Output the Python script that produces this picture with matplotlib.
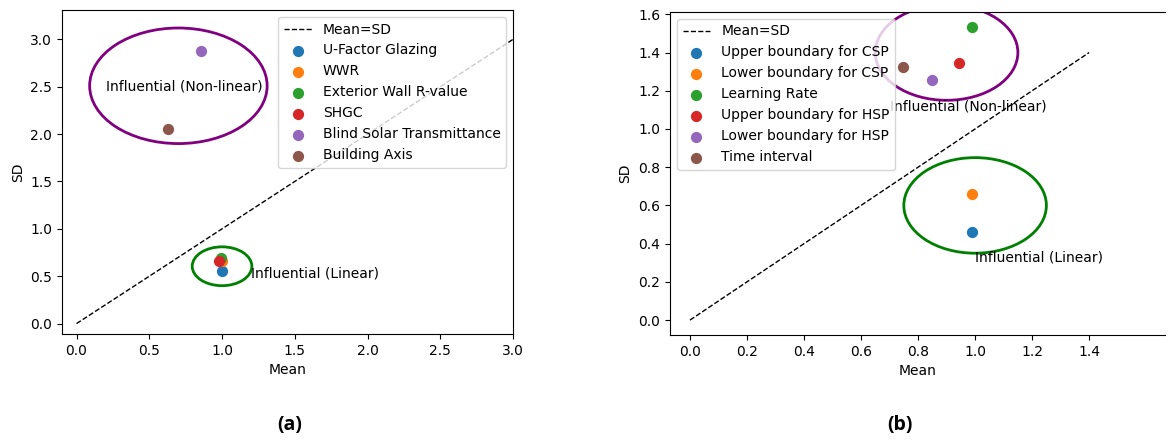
import matplotlib
matplotlib.use("Agg")
import matplotlib.pyplot as plt
from matplotlib.patches import Ellipse

# ---- data panel (a) ----
labels_a = ["U-Factor Glazing", "WWR", "Exterior Wall R-value", "SHGC",
            "Blind Solar Transmittance", "Building Axis"]
mean_a = [1.00, 1.00, 0.99, 0.98, 0.855, 0.63]
sd_a = [0.55, 0.66, 0.69, 0.66, 2.88, 2.05]
diag_a = [0.0, 3.0]

# ---- data panel (b) ----
labels_b = ["Upper boundary for CSP", "Lower boundary for CSP", "Learning Rate",
            "Upper boundary for HSP", "Lower boundary for HSP", "Time interval"]
mean_b = [0.99, 0.99, 0.99, 0.943, 0.85, 0.748]
sd_b = [0.46, 0.66, 1.532, 1.347, 1.255, 1.322]
diag_b = [0.0, 1.4]

colors = ["#1f77b4", "#ff7f0e", "#2ca02c", "#d62728", "#9467bd", "#8c564b"]

fig = plt.figure(figsize=(11.7, 4.45), dpi=100)
plt.rcParams['font.family'] = ['DejaVu Sans']

# panel (a)
ax1 = fig.add_axes([62/1170, 1 - 334/445, 451/1170, 324/445])
ax1.plot(diag_a, diag_a, 'k--', lw=1, label="Mean=SD")
for m, s, c, l in zip(mean_a, sd_a, colors, labels_a):
    ax1.scatter(m, s, color=c, s=50, label=l, zorder=3)
ax1.add_patch(Ellipse((0.70, 2.51), 1.22, 1.22, fill=False, ec="purple", lw=2))
ax1.add_patch(Ellipse((1.0, 0.605), 0.41, 0.41, fill=False, ec="green", lw=2))
ax1.text(0.2, 2.5, "Influential (Non-linear)", va="center", ha="left", fontsize=10)
ax1.text(1.2, 0.53, "Influential (Linear)", va="center", ha="left", fontsize=10)
ax1.set_xlim(-0.1, 3.0)
ax1.set_ylim(-0.11, 3.31)
ax1.set_xlabel("Mean")
ax1.set_ylabel("SD")
ax1.legend(loc="upper right", fontsize=10)

# panel (b)
ax2 = fig.add_axes([670/1170, 1 - 335/445, 495/1170, 323/445])
ax2.plot(diag_b, diag_b, 'k--', lw=1, label="Mean=SD")
for m, s, c, l in zip(mean_b, sd_b, colors, labels_b):
    ax2.scatter(m, s, color=c, s=50, label=l, zorder=3)
ax2.add_patch(Ellipse((0.90, 1.40), 0.5, 0.5, fill=False, ec="purple", lw=2))
ax2.add_patch(Ellipse((1.0, 0.60), 0.5, 0.5, fill=False, ec="green", lw=2))
ax2.text(0.70, 1.12, "Influential (Non-linear)", va="center", ha="left", fontsize=10)
ax2.text(1.0, 0.326, "Influential (Linear)", va="center", ha="left", fontsize=10)
ax2.set_xlim(-0.07, 1.666)
ax2.set_ylim(-0.078, 1.612)
ax2.set_xticks([0.0, 0.2, 0.4, 0.6, 0.8, 1.0, 1.2, 1.4])
ax2.spines['right'].set_visible(False)
ax2.set_xlabel("Mean")
ax2.set_ylabel("SD")
ax2.legend(loc="upper left", fontsize=10)

fig.text(290/1170, 1 - 425/445, "(a)", ha="center", va="center",
         fontsize=14, fontweight="bold", family=["Open Sans", "DejaVu Sans"])
fig.text(900/1170, 1 - 425/445, "(b)", ha="center", va="center",
         fontsize=14, fontweight="bold", family=["Open Sans", "DejaVu Sans"])

fig.savefig("out.png", dpi=100)
